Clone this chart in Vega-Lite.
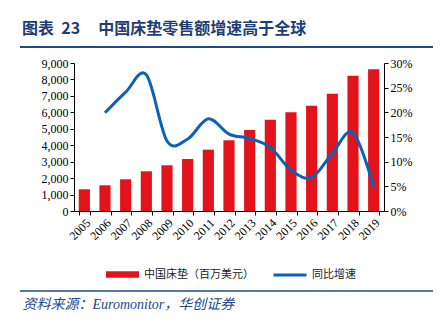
{
  "$schema": "https://vega.github.io/schema/vega-lite/v6.json",
  "width": 310,
  "height": 148,
  "autosize": {"type": "none"},
  "padding": {"left": 74, "top": 63, "right": 63, "bottom": 120},
  "background": "white",
  "title": {
    "text": "图表\u00a0\u00a023\u00a0\u00a0\u00a0\u00a0\u00a0中国床垫零售额增速高于全球",
    "anchor": "start",
    "frame": "group",
    "dx": -52,
    "offset": 9,
    "font": "Noto Sans CJK SC",
    "fontSize": 16,
    "fontWeight": "bold",
    "color": "#1d3d78"
  },
  "data": {
    "values": [
      {"year": "2005", "sales": 1320, "growth": null},
      {"year": "2006", "sales": 1563, "growth": 0.199},
      {"year": "2007", "sales": 1928, "growth": 0.241},
      {"year": "2008", "sales": 2415, "growth": 0.276},
      {"year": "2009", "sales": 2780, "growth": 0.142},
      {"year": "2010", "sales": 3163, "growth": 0.146},
      {"year": "2011", "sales": 3730, "growth": 0.187},
      {"year": "2012", "sales": 4300, "growth": 0.156},
      {"year": "2013", "sales": 4927, "growth": 0.147},
      {"year": "2014", "sales": 5555, "growth": 0.129},
      {"year": "2015", "sales": 6000, "growth": 0.083},
      {"year": "2016", "sales": 6407, "growth": 0.068},
      {"year": "2017", "sales": 7137, "growth": 0.117},
      {"year": "2018", "sales": 8230, "growth": 0.159},
      {"year": "2019", "sales": 8619, "growth": 0.049}
    ]
  },
  "config": {
    "view": {"stroke": null},
    "axis": {
      "labelFont": "Liberation Serif",
      "labelFontSize": 12,
      "labelColor": "#000000",
      "domainColor": "#000000",
      "tickColor": "#000000",
      "grid": false,
      "tickSize": 4
    }
  },
  "layer": [
    {
      "mark": {"type": "bar"},
      "encoding": {
        "x": {
          "field": "year",
          "type": "ordinal",
          "scale": {"paddingInner": 0.46, "paddingOuter": 0.23},
          "axis": {
            "labelAngle": -45,
            "tickBand": "extent",
            "title": "资料来源：Euromonitor，华创证券",
            "titleX": -52,
            "titleY": 93,
            "titleAngle": 0,
            "titleAlign": "left",
            "titleBaseline": "middle",
            "titleFont": "Liberation Serif, Noto Sans CJK SC",
            "titleFontStyle": "italic",
            "titleFontWeight": "normal",
            "titleFontSize": 14,
            "titleColor": "#23498a"
          }
        },
        "y": {
          "field": "sales",
          "type": "quantitative",
          "scale": {"domain": [0, 9000]},
          "axis": {"values": [0, 1000, 2000, 3000, 4000, 5000, 6000, 7000, 8000, 9000], "format": ",.0f", "title": null}
        },
        "fill": {
          "datum": "中国床垫（百万美元）",
          "scale": {"range": ["#e3121b"]},
          "legend": {
            "title": null,
            "orient": "none",
            "legendX": 31,
            "legendY": 194,
            "padding": 0,
            "symbolType": "M-1,-0.2H1V0.2H-1Z",
            "symbolSize": 1089,
            "labelFont": "Noto Sans CJK SC",
            "labelFontSize": 11,
            "labelColor": "#222222",
            "labelOffset": 4
          }
        }
      }
    },
    {
      "mark": {"type": "line", "interpolate": "cardinal", "strokeWidth": 3},
      "transform": [{"filter": "datum.growth != null"}],
      "encoding": {
        "x": {"field": "year", "type": "ordinal"},
        "y": {
          "field": "growth",
          "type": "quantitative",
          "scale": {"domain": [0, 0.3]},
          "axis": {"orient": "right", "format": ".0%", "values": [0, 0.05, 0.1, 0.15, 0.2, 0.25, 0.3], "title": null}
        },
        "stroke": {
          "datum": "同比增速",
          "scale": {"range": ["#0a62b8"]},
          "legend": {
            "title": null,
            "orient": "none",
            "legendX": 198,
            "legendY": 194,
            "padding": 0,
            "symbolType": "stroke",
            "symbolSize": 1089,
            "symbolStrokeWidth": 3,
            "labelFont": "Noto Sans CJK SC",
            "labelFontSize": 11,
            "labelColor": "#222222",
            "labelOffset": 4
          }
        }
      }
    },
    {
      "data": {"values": [{}]},
      "mark": {"type": "rule", "color": "#1d4a8a", "strokeWidth": 2},
      "encoding": {"x": {"value": -54}, "x2": {"value": 359}, "y": {"value": -16}}
    },
    {
      "data": {"values": [{}]},
      "mark": {"type": "rule", "color": "#1d4a8a", "strokeWidth": 1.5},
      "encoding": {"x": {"value": -54}, "x2": {"value": 359}, "y": {"value": 228}}
    }
  ],
  "resolve": {"scale": {"y": "independent"}}
}
